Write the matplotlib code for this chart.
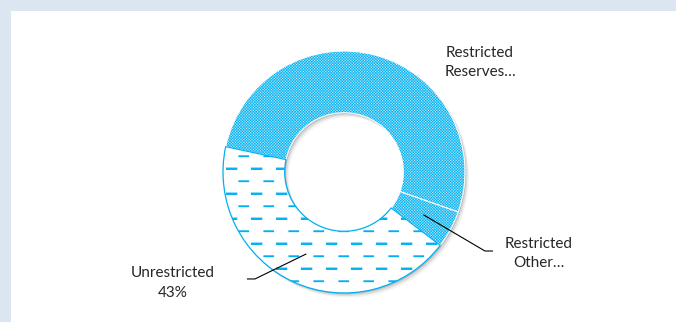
import numpy as np
import matplotlib
matplotlib.use("Agg")
import matplotlib.pyplot as plt
import matplotlib.hatch as mhatch
from matplotlib.path import Path
from matplotlib.patches import Rectangle, Shadow

# ---- data ----
categories = ["Restricted\nReserves…", "Restricted\nOther…", "Unrestricted\n43%"]
values = [52, 5, 43]

CYAN = "#00b0f0"
BG = "#dce6f0"
TILE = 72.0  # hatch tile size in pixels


# ---- custom fill patterns (hatch) ----
def _rect(x0, x1, y, h):
    return ([(x0, y - h), (x1, y - h), (x1, y + h), (x0, y + h), (x0, y - h)],
            [Path.MOVETO, Path.LINETO, Path.LINETO, Path.LINETO, Path.CLOSEPOLY])


class DashRowHatch(mhatch.HatchPatternBase):
    """'-' : alternating rows of thick and thin dashes."""
    def __init__(self, hatch, density):
        self.on = "-" in hatch
        self.n_pairs = 4
        self.n_dash = 4
        self.num_vertices = self.n_pairs * self.n_dash * 10 if self.on else 0

    def set_vertices_and_codes(self, vertices, codes):
        verts, cds = [], []
        p = 1.0 / self.n_dash
        rh = 1.0 / self.n_pairs
        L = 7.5 / TILE
        Lt = 7.0 / TILE
        for r in range(self.n_pairs):
            yk = (np.floor(r * rh * TILE + rh * TILE * 0.25) + 0.5) / TILE
            yt = (np.floor(r * rh * TILE + rh * TILE * 0.75) + 0.5) / TILE
            for k in range(self.n_dash):
                x0 = k * p + 1.0 / TILE
                v, c = _rect(x0, x0 + L, yk, 0.5 / TILE)
                verts += v; cds += c
                xa = k * p + p / 2 + 1.0 / TILE
                v, c = _rect(xa, xa + Lt, yt, 0.3 / TILE)
                verts += v; cds += c
        vertices[:] = np.array(verts)
        codes[:] = np.array(cds)


class CheckerHatch(mhatch.HatchPatternBase):
    """'x' : 1-pixel checkerboard."""
    def __init__(self, hatch, density):
        self.n = int(TILE) if "x" in hatch else 0
        self.num_vertices = (self.n * self.n // 2) * 5

    def set_vertices_and_codes(self, vertices, codes):
        n = self.n
        ii, jj = np.meshgrid(np.arange(n), np.arange(n))
        m = (ii + jj) % 2 == 0
        cx = (ii[m] + 0.5) / n
        cy = (jj[m] + 0.5) / n
        s = 0.06 / n
        v = np.empty((cx.size, 5, 2))
        v[:, 0] = np.c_[cx - s, cy - s]
        v[:, 1] = np.c_[cx + s, cy - s]
        v[:, 2] = np.c_[cx + s, cy + s]
        v[:, 3] = np.c_[cx - s, cy + s]
        v[:, 4] = np.c_[cx - s, cy - s]
        c = np.empty((cx.size, 5), dtype=codes.dtype)
        c[:] = [Path.MOVETO, Path.LINETO, Path.LINETO, Path.LINETO, Path.CLOSEPOLY]
        vertices[:] = v.reshape(-1, 2)
        codes[:] = c.reshape(-1)


mhatch._hatch_types = [DashRowHatch, CheckerHatch]
plt.rcParams["hatch.linewidth"] = 0.70
plt.rcParams["font.family"] = ["Lato", "DejaVu Sans"]

W, H = 676, 322
fig = plt.figure(figsize=(W / 100, H / 100), dpi=100, facecolor=BG)
fig.add_artist(Rectangle((11 / W, 0), 1 - 11 / W, 1 - 11 / H, transform=fig.transFigure,
                         facecolor="white", edgecolor="none", zorder=-10))

ax = fig.add_axes([0, 0, 1, 1])
ax.patch.set_visible(False)

cx_px, cy_px, R_px = 344, 172, 121
wedges, _ = ax.pie(values, startangle=167.9, counterclock=False, radius=1.0,
                   wedgeprops=dict(width=0.51))

styles = [
    dict(facecolor=CYAN, edgecolor="white", hatch="x", linewidth=0.8),
    dict(facecolor=CYAN, edgecolor="white", hatch="x", linewidth=0.8),
    dict(facecolor="white", edgecolor=CYAN, hatch="-", linewidth=0.9),
]
px2pt = 0.72 / R_px  # shadow offsets: data units * 72/dpi
for w, st in zip(wedges, styles):
    w.set(**st)
    for (opx, a) in [(1.2, 0.25), (2.6, 0.14), (4.0, 0.07)]:
        sh = Shadow(w, opx * px2pt, -opx * 1.15 * px2pt, facecolor="#555555",
                    edgecolor="none", alpha=a, hatch=None)
        ax.add_patch(sh)

ax.set_aspect("auto")
ax.set_xlim(-cx_px / R_px, (W - cx_px) / R_px)
ax.set_ylim(-(H - cy_px) / R_px, cy_px / R_px)
ax.axis("off")

# ---- labels ----
txt = dict(ha="center", va="center", fontsize=11.0, color="#262626", linespacing=1.5)
label_pos = [(1.124, 0.905), (1.612, -0.672), (-1.413, -0.917)]
knees = [None, ((1.165, -0.653), (1.231, -0.653)), ((-0.736, -0.884), (-0.802, -0.884))]
for w, lab, pos, kn in zip(wedges, categories, label_pos, knees):
    ax.text(pos[0], pos[1], lab, **txt)
    if kn is not None:
        ang = np.deg2rad((w.theta1 + w.theta2) / 2)
        r = 1 - 0.51 / 2
        sx, sy = r * np.cos(ang), r * np.sin(ang)
        ax.plot([sx, kn[0][0], kn[1][0]], [sy, kn[0][1], kn[1][1]],
                color="black", lw=0.8, solid_capstyle="butt")

fig.savefig("out.png", dpi=100, facecolor=BG)
